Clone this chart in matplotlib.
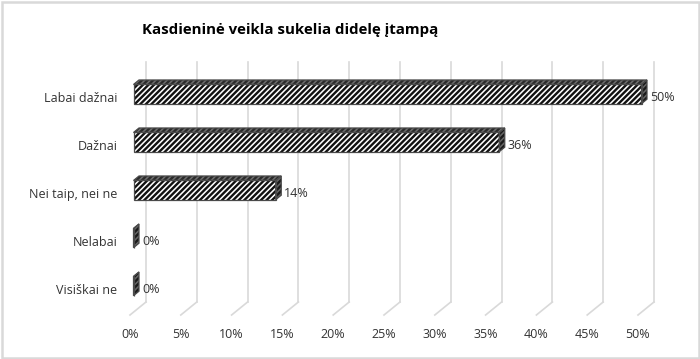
import matplotlib
matplotlib.use('Agg')
import matplotlib.pyplot as plt
from matplotlib.patches import Rectangle, Polygon

categories = ['Labai dažnai', 'Dažnai', 'Nei taip, nei ne', 'Nelabai', 'Visiškai ne']
values = [50, 36, 14, 0, 0]
xticks = [0, 5, 10, 15, 20, 25, 30, 35, 40, 45, 50]
xticklabels = [f'{t}%' for t in xticks]
title = 'Kasdieninė veikla sukelia didelę įtampą'

plt.rcParams['font.family'] = ['Open Sans', 'DejaVu Sans']
plt.rcParams['hatch.linewidth'] = 1.7

W, H = 700, 359
fig = plt.figure(figsize=(7, 3.59), dpi=100)
L, R, B, T = 130, 638, 315, 75
ax = fig.add_axes([L / W, 1 - B / H, (R - L) / W, (B - T) / H])
XMIN, XMAX = 0, 50
YMIN, YMAX = -0.54, 4.46
ax.set_xlim(XMIN, XMAX)
ax.set_ylim(YMIN, YMAX)
for s in ax.spines.values():
    s.set_visible(False)
pxx = (R - L) / (XMAX - XMIN)
pxy = (B - T) / (YMAX - YMIN)

txt = '#333333'
grid = '#d9d9d9'

# back wall gridlines and floor diagonals
bx, by = 16 / pxx, 13 / pxy
for t in xticks:
    ax.plot([t + bx, t + bx], [YMIN + by, YMAX + by], color=grid, lw=1.2,
            clip_on=False, zorder=1)
    ax.plot([t, t + bx], [YMIN, YMIN + by], color=grid, lw=1.2,
            clip_on=False, zorder=1)

# bars
fx, fy = 3.5 / pxx, 3 / pxy
dx, dy = 5.5 / pxx, 4.5 / pxy
h = 0.4
n = len(categories)
for i, (c, v) in enumerate(zip(categories, values)):
    y = n - 1 - i
    x0 = fx
    x1 = v + fx
    yb = y - h / 2 + fy
    yt = y + h / 2 + fy
    # front face
    ax.add_patch(Rectangle((x0, yb), v, h, facecolor='white', edgecolor='#111111',
                           hatch='//////', lw=0, clip_on=False, zorder=3))
    ax.add_patch(Rectangle((x0, yb), v, h, fill=False, edgecolor='#4a4a4a',
                           lw=0.9, clip_on=False, zorder=4))
    # top face
    top = [(x0, yt), (x1, yt), (x1 + dx, yt + dy), (x0 + dx, yt + dy)]
    ax.add_patch(Polygon(top, closed=True, facecolor='#6e6e6e', edgecolor='#2a2a2a',
                         hatch='//////', lw=0, clip_on=False, zorder=3))
    ax.add_patch(Polygon(top, closed=True, fill=False, edgecolor='#4a4a4a',
                         lw=0.9, clip_on=False, zorder=4))
    # side face
    side = [(x1, yb), (x1 + dx, yb + dy), (x1 + dx, yt + dy), (x1, yt)]
    ax.add_patch(Polygon(side, closed=True, facecolor='#666666', edgecolor='#1a1a1a',
                         hatch='//////', lw=0, clip_on=False, zorder=3))
    ax.add_patch(Polygon(side, closed=True, fill=False, edgecolor='#4a4a4a',
                         lw=0.9, clip_on=False, zorder=4))
    ax.text(x1 + dx + 3 / pxx, y, f'{v}%', ha='left', va='center',
            fontsize=9, color=txt, zorder=5)

ax.set_xticks(xticks)
ax.set_xticklabels(xticklabels)
ax.set_yticks(range(n))
ax.set_yticklabels(categories[::-1])
ax.tick_params(axis='both', length=0, labelsize=9, labelcolor=txt)
ax.tick_params(axis='x', pad=9)
ax.tick_params(axis='y', pad=9)

fig.text(290 / W, 1 - 30 / H, title, ha='center', va='center',
         fontsize=10.8, fontweight='bold', color='#000000')

fig.patches.append(Rectangle((1.5 / W, 1.5 / H), (W - 3) / W, (H - 3.5) / H,
                             transform=fig.transFigure, fill=False,
                             edgecolor='#d9d9d9', lw=1.8))

fig.savefig('out.png', dpi=100, facecolor='white')
